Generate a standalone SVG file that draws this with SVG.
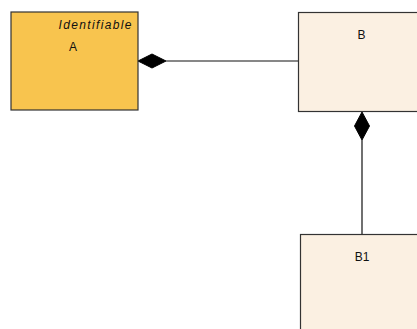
<svg xmlns="http://www.w3.org/2000/svg" width="417" height="329" viewBox="0 0 417 329">
<style>
.box{stroke:#333;stroke-width:1.2}
.lbl{font-family:"Liberation Sans",Arial,sans-serif;font-size:12px;fill:#111}
.edge{stroke:#111;stroke-width:1.2;fill:none}
.dia{fill:#000;stroke:#000;stroke-width:1}
</style>
<rect width="417" height="329" fill="#fff"/>
<g id="connectors">
<line class="edge" x1="166" y1="61" x2="298" y2="61"/>
<polygon class="dia" points="138,61 152,54 166,61 152,68"/>
<line class="edge" x1="362" y1="140" x2="362" y2="234"/>
<polygon class="dia" points="362,112 369.5,126 362,140 354.5,126"/>
</g>
<g id="A">
<rect class="box" x="11" y="12" width="127" height="98" fill="#F8C44E"/>
<text class="lbl" x="58.5" y="29" font-size="13" font-style="italic" textLength="73" lengthAdjust="spacing">Identifiable</text>
<text class="lbl" x="73" y="51" text-anchor="middle">A</text>
</g>
<g id="B">
<rect class="box" x="298.5" y="12.5" width="130" height="99" fill="#FBF0E2"/>
<text class="lbl" x="361.5" y="38.5" text-anchor="middle">B</text>
</g>
<g id="B1">
<rect class="box" x="300.5" y="234.5" width="130" height="110" fill="#FBF0E2"/>
<text class="lbl" x="362" y="261" text-anchor="middle">B1</text>
</g>
</svg>
